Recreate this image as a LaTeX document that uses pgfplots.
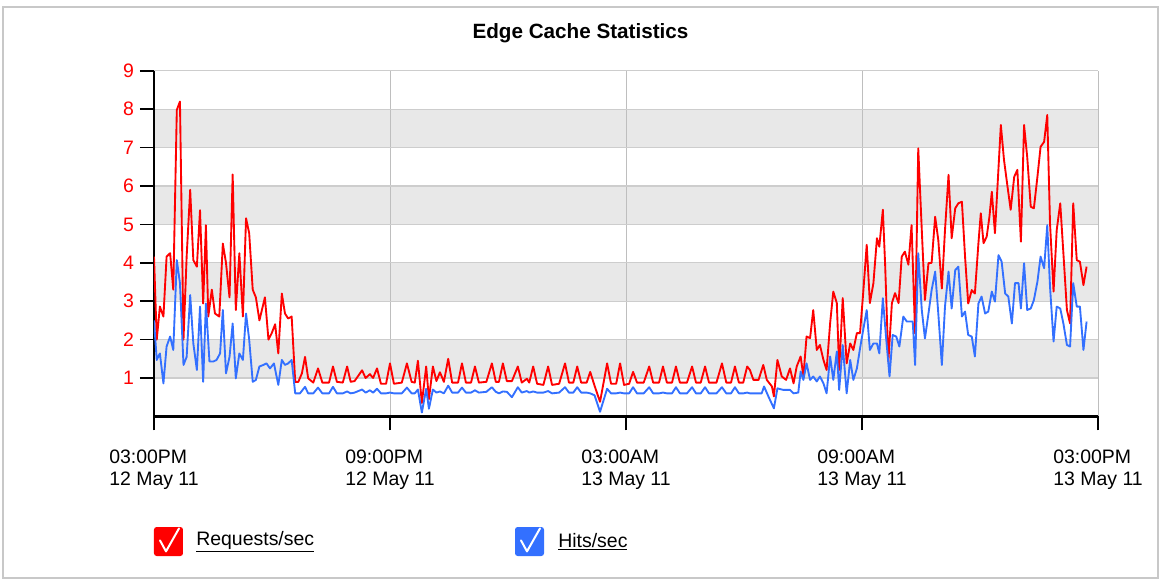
\documentclass[border=0pt]{standalone}
\usepackage{fontspec}
\setmainfont{Liberation Sans}
\usepackage{pgfplots}
\pgfplotsset{compat=1.18}
\definecolor{reqred}{RGB}{255,0,0}
\definecolor{hitblue}{RGB}{51,112,255}
\definecolor{band}{RGB}{232,232,232}
\definecolor{gridc}{RGB}{205,205,205}
\definecolor{vgridc}{RGB}{190,190,190}
\definecolor{framec}{RGB}{200,200,200}
\newcommand{\lblfont}{\fontsize{14.6}{16.6}\selectfont}
\begin{document}
\begin{tikzpicture}[x=0.75pt,y=0.75pt]
\begin{axis}[
  at={(0,0)}, anchor=south west, scale only axis,
  width=708pt, height=259.2pt,
  xmin=0, xmax=24, ymin=0, ymax=9,
  set layers,
  axis x line*=bottom, axis y line*=left,
  axis line style={-, black, line width=1.9pt},
  xtick={0,6,12,18,24},
  xticklabels={{03:00PM\\12 May 11},{09:00PM\\12 May 11},{03:00AM\\13 May 11},{09:00AM\\13 May 11},{03:00PM\\13 May 11}},
  xticklabel style={align=left, font=\lblfont, yshift=-11pt},
  ytick={1,2,3,4,5,6,7,8,9},
  yticklabel style={text=reqred, font=\lblfont, xshift=-1pt},
  /pgf/number format/assume math mode=true,
  tick align=outside, major tick length=10.5pt,
  tick style={black, line width=1.1pt},
  xmajorgrids, ymajorgrids,
  x grid style={vgridc, line width=0.65pt},
  y grid style={gridc, line width=0.9pt},
]
\begin{pgfonlayer}{axis background}
\fill[band] (axis cs:0,1) rectangle (axis cs:24,2);
\fill[band] (axis cs:0,3) rectangle (axis cs:24,4);
\fill[band] (axis cs:0,5) rectangle (axis cs:24,6);
\fill[band] (axis cs:0,7) rectangle (axis cs:24,8);
\end{pgfonlayer}
% Requests/sec
\addplot[reqred, line width=1.4pt, line join=round] coordinates {
(0,4.16) (0.07,2.0) (0.15,2.86) (0.24,2.6) (0.32,4.16) (0.41,4.25) (0.49,3.3) (0.58,7.98) (0.66,8.2) (0.75,2.0) (0.83,4.16) (0.92,5.9) (1.0,4.07) (1.09,3.9) (1.17,5.37) (1.25,2.94) (1.32,4.98) (1.38,2.6) (1.47,3.3) (1.55,2.68) (1.66,2.6) (1.75,4.5) (1.83,4.0) (1.92,3.1) (2.0,6.3) (2.08,2.77) (2.17,4.25) (2.26,2.6) (2.34,5.16) (2.42,4.77) (2.51,3.3) (2.59,3.1) (2.68,2.5) (2.82,3.1) (2.91,2.0) (2.99,2.16) (3.08,2.4) (3.16,1.64) (3.25,3.2) (3.33,2.68) (3.41,2.55) (3.5,2.6) (3.59,0.9) (3.67,0.9) (3.76,1.12) (3.84,1.55) (3.92,0.99)
(4.05,0.88) (4.17,1.25) (4.28,0.88) (4.45,0.88) (4.55,1.3) (4.65,0.9) (4.8,0.88) (4.91,1.3) (5.0,0.9) (5.1,0.92) (5.29,1.2) (5.38,1.0) (5.49,1.1) (5.57,1.0) (5.67,1.25) (5.77,0.85) (5.9,0.85) (6.0,1.38) (6.1,0.85) (6.3,0.88) (6.43,1.38) (6.55,0.9) (6.63,0.88) (6.71,1.45) (6.81,0.35) (6.92,1.3) (6.99,0.45) (7.09,1.3) (7.18,0.92) (7.27,1.15) (7.37,0.9) (7.48,1.5) (7.58,0.88) (7.73,0.88) (7.83,1.38) (7.93,0.88) (8.06,0.88) (8.16,1.3) (8.26,0.88) (8.45,0.9) (8.59,1.38) (8.69,0.9) (8.77,0.9) (8.87,1.38) (8.97,0.92) (9.1,0.92) (9.25,1.3) (9.35,0.88) (9.48,0.98) (9.54,0.88) (9.64,1.3) (9.74,0.85) (9.9,0.82) (10.02,1.3) (10.12,0.82) (10.3,0.85) (10.45,1.38) (10.55,0.88) (10.66,0.88) (10.76,1.3) (10.86,0.88) (11.0,0.88) (11.09,1.16) (11.2,0.8) (11.34,0.38) (11.52,1.38) (11.62,0.85) (11.75,0.85) (11.85,1.38) (11.95,0.82) (12.08,0.85) (12.18,1.16) (12.28,0.88) (12.45,0.88) (12.59,1.3) (12.69,0.88) (12.84,0.88) (12.94,1.3) (13.04,0.88) (13.17,0.88) (13.27,1.3) (13.37,0.88) (13.55,0.88) (13.68,1.3) (13.78,0.88) (13.9,0.88) (14.01,1.3) (14.11,0.88) (14.3,0.88) (14.44,1.38) (14.55,0.88) (14.67,0.88) (14.77,1.3) (14.87,0.88) (14.98,0.88) (15.08,1.3) (15.15,1.21)
(15.24,0.95) (15.37,0.95) (15.49,1.34) (15.58,0.95) (15.71,0.78) (15.76,0.52) (15.85,1.47) (15.96,1.04) (16.07,0.95) (16.17,1.25) (16.26,0.86) (16.34,1.3) (16.44,1.56) (16.51,1.04) (16.59,2.08) (16.68,2.04) (16.76,2.77) (16.85,1.73) (16.93,1.86) (17.02,1.47) (17.1,1.21) (17.19,2.43) (17.27,3.25) (17.36,2.95) (17.42,1.21) (17.51,3.08) (17.61,1.38) (17.7,1.9) (17.78,1.73) (17.87,2.17) (17.95,2.17) (18.03,3.21) (18.12,4.47) (18.2,2.95) (18.29,3.47) (18.38,4.64) (18.44,4.42) (18.53,5.38) (18.59,3.9) (18.67,1.43) (18.76,2.95) (18.84,3.21) (18.93,2.95) (19.01,4.16) (19.09,4.29) (19.18,3.95)
(19.26,4.98) (19.35,2.16) (19.43,6.98) (19.52,4.85) (19.6,3.03) (19.69,3.99) (19.77,4.0) (19.86,5.2) (19.94,4.59) (20.03,3.33) (20.11,4.85) (20.2,6.29) (20.28,4.64) (20.37,5.42) (20.45,5.55) (20.54,5.59) (20.62,4.16) (20.7,2.94) (20.79,3.29) (20.87,3.2) (20.96,4.51) (21.02,5.29) (21.09,4.51) (21.17,4.68) (21.24,5.2) (21.3,5.85) (21.38,4.77) (21.44,5.9) (21.53,7.59) (21.61,6.68) (21.7,5.98) (21.78,5.38) (21.87,6.24) (21.95,6.42) (22.04,4.55) (22.12,7.59) (22.2,6.76) (22.29,5.46) (22.37,5.42) (22.46,6.24) (22.54,7.02) (22.63,7.15) (22.71,7.85) (22.78,5.03) (22.87,3.25) (22.95,4.85) (23.04,5.55) (23.12,4.25) (23.21,2.77) (23.29,2.42) (23.37,5.55) (23.46,4.07) (23.54,4.03) (23.63,3.42) (23.71,3.9)
};
% Hits/sec
\addplot[hitblue, line width=1.4pt, line join=round] coordinates {
(0,2.5) (0.07,1.47) (0.15,1.64) (0.24,0.86) (0.32,1.82) (0.41,2.08) (0.49,1.73) (0.58,4.07) (0.66,3.47) (0.75,1.34) (0.83,1.55) (0.92,3.16) (1.0,1.9) (1.09,1.21) (1.17,2.86) (1.25,0.9) (1.32,2.94) (1.41,1.43) (1.51,1.43) (1.59,1.47) (1.68,1.64) (1.75,2.77) (1.83,1.12) (1.92,1.55) (2.0,2.42) (2.08,0.99) (2.17,1.64) (2.26,1.47) (2.34,2.68) (2.42,2.0) (2.51,0.9) (2.59,0.95) (2.68,1.3) (2.78,1.34) (2.86,1.38) (2.95,1.25) (3.05,1.38) (3.16,0.82) (3.25,1.47) (3.33,1.34) (3.41,1.38) (3.5,1.47) (3.59,0.6) (3.71,0.6) (3.84,0.77) (3.92,0.6)
(4.05,0.6) (4.17,0.75) (4.28,0.6) (4.45,0.6) (4.55,0.77) (4.65,0.6) (4.8,0.6) (4.91,0.65) (5.0,0.6) (5.1,0.62) (5.29,0.7) (5.38,0.62) (5.49,0.68) (5.57,0.62) (5.67,0.72) (5.77,0.6) (5.9,0.6) (6.0,0.62) (6.1,0.6) (6.3,0.6) (6.43,0.75) (6.55,0.6) (6.63,0.6) (6.71,0.7) (6.81,0.1) (6.92,0.72) (6.99,0.2) (7.09,0.7) (7.18,0.62) (7.27,0.65) (7.37,0.6) (7.48,0.8) (7.58,0.62) (7.73,0.62) (7.83,0.75) (7.93,0.62) (8.06,0.62) (8.16,0.68) (8.26,0.62) (8.45,0.64) (8.59,0.76) (8.69,0.64) (8.77,0.6) (8.87,0.65) (8.97,0.64) (9.1,0.5) (9.25,0.76) (9.35,0.62) (9.48,0.66) (9.54,0.62) (9.64,0.65) (9.74,0.62) (9.9,0.62) (10.02,0.66) (10.12,0.6) (10.3,0.62) (10.45,0.76) (10.55,0.62) (10.66,0.62) (10.76,0.76) (10.86,0.62) (11.0,0.62) (11.09,0.6) (11.2,0.55) (11.34,0.12) (11.52,0.72) (11.62,0.6) (11.75,0.6) (11.85,0.62) (11.95,0.6) (12.08,0.6) (12.18,0.76) (12.28,0.6) (12.45,0.6) (12.59,0.76) (12.69,0.6) (12.84,0.6) (12.94,0.62) (13.04,0.6) (13.17,0.6) (13.27,0.76) (13.37,0.6) (13.55,0.6) (13.68,0.76) (13.78,0.6) (13.9,0.6) (14.01,0.76) (14.11,0.6) (14.3,0.6) (14.44,0.76) (14.55,0.6) (14.67,0.6) (14.77,0.76) (14.87,0.6) (14.98,0.6) (15.08,0.62) (15.15,0.6)
(15.45,0.6) (15.51,0.78) (15.62,0.52) (15.76,0.21) (15.85,0.73) (16.0,0.69) (16.17,0.69) (16.26,0.6) (16.38,0.62) (16.44,1.17) (16.51,0.95) (16.59,1.38) (16.68,0.95) (16.76,1.04) (16.85,0.91) (16.93,1.04) (17.02,0.86) (17.1,0.6) (17.19,1.56) (17.27,0.95) (17.36,1.69) (17.42,0.69) (17.51,1.86) (17.61,0.6) (17.7,1.47) (17.78,0.95) (17.87,1.25) (17.95,1.77) (18.03,2.25) (18.12,2.77) (18.2,1.73) (18.29,1.9) (18.38,1.9) (18.44,1.64) (18.53,3.08) (18.61,2.08) (18.7,1.04) (18.78,2.12) (18.87,2.08) (18.95,1.82)
(19.05,2.6) (19.14,2.47) (19.22,2.47) (19.29,2.47) (19.35,1.34) (19.43,4.25) (19.52,2.77) (19.6,2.03) (19.69,2.68) (19.77,3.29) (19.86,3.77) (19.94,2.68) (20.03,1.34) (20.11,2.86) (20.2,3.77) (20.28,2.81) (20.37,3.81) (20.45,3.9) (20.54,2.6) (20.62,2.73) (20.7,2.12) (20.79,2.08) (20.87,1.56) (20.96,2.94) (21.04,3.12) (21.13,2.68) (21.21,2.73) (21.3,3.25) (21.38,2.99) (21.47,4.2) (21.55,4.03) (21.64,3.2) (21.72,3.12) (21.81,2.42) (21.89,3.47) (21.98,3.47) (22.04,2.81) (22.12,3.99) (22.2,2.77) (22.29,2.81) (22.37,3.03) (22.46,3.51) (22.54,4.16) (22.63,3.86) (22.71,4.98) (22.78,3.38) (22.87,1.95) (22.95,2.86) (23.04,2.81) (23.12,2.42) (23.21,1.86) (23.29,1.82) (23.37,3.47) (23.46,2.86) (23.54,2.86) (23.63,1.73) (23.71,2.47)
};
\end{axis}
% frame
\draw[framec, line width=1.1pt] (-151,-161.5) rectangle (1004,409.4);
% title
\node[font=\fontsize{15.5}{18}\selectfont\bfseries, anchor=center] at (426.5,383) {Edge Cache Statistics};
% legend
\fill[reqred, rounded corners=2pt] (0,-139.6) rectangle (29,-110.6);
\draw[white, line width=1.5pt, line join=round, line cap=round] (6,-124) -- (12,-135) -- (25,-112);
\node[anchor=west, inner sep=0pt, font=\lblfont] at (42,-125.6) {\underline{Requests/sec}};
\fill[hitblue, rounded corners=2pt] (361,-139.6) rectangle (390,-110.6);
\draw[white, line width=1.5pt, line join=round, line cap=round] (367,-124) -- (373,-135) -- (386,-112);
\node[anchor=west, inner sep=0pt, font=\lblfont] at (404,-125.6) {\underline{Hits/sec}};
\pgfresetboundingbox
\useasboundingbox (-154,-162.6) rectangle (1007,416.4);
\end{tikzpicture}
\end{document}
